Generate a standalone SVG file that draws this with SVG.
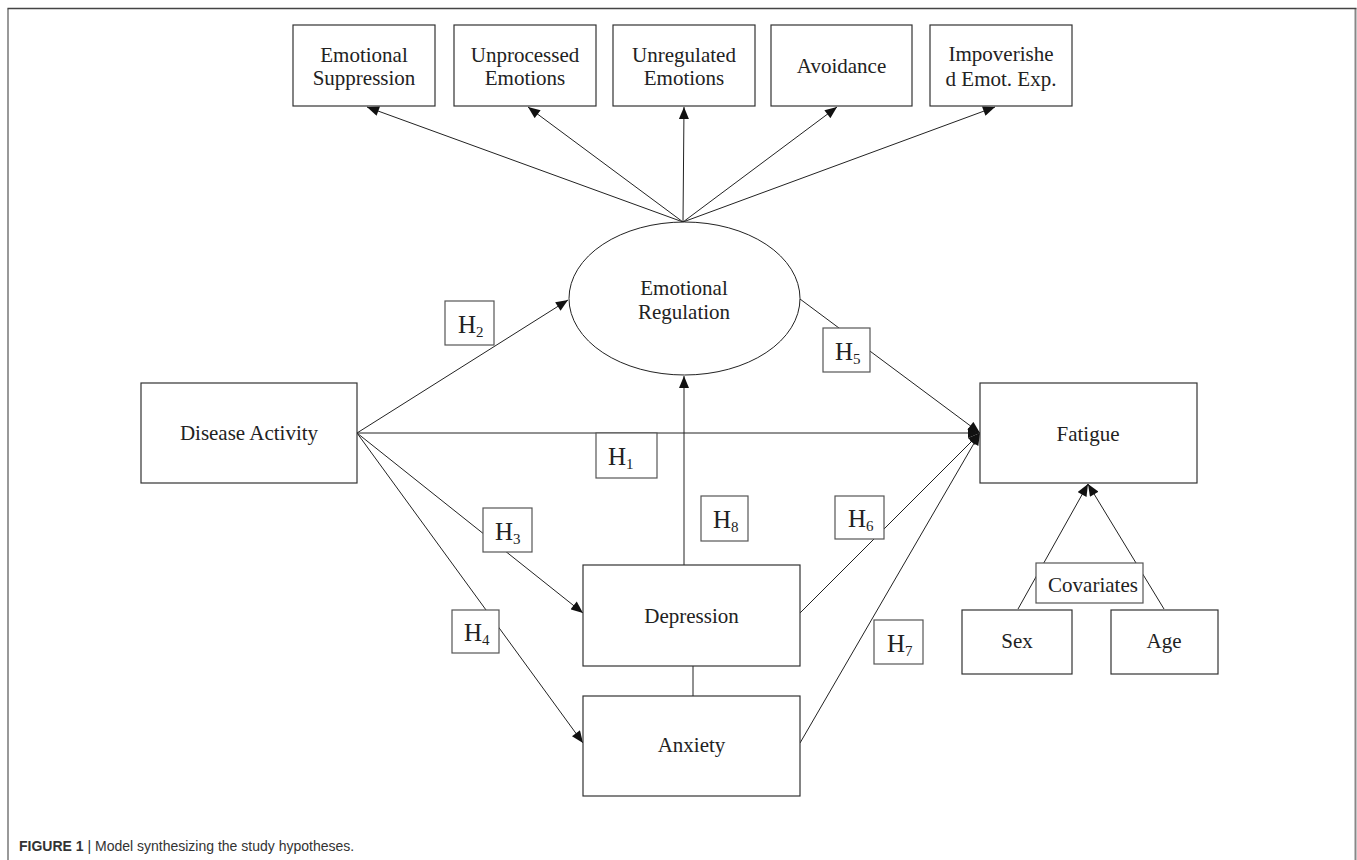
<svg xmlns="http://www.w3.org/2000/svg" width="1357" height="860" viewBox="0 0 1357 860">
<style>
  .box { fill: #fff; stroke: #333; stroke-width: 1.2; }
  .lbl { fill: #fff; stroke: #555; stroke-width: 1.2; }
  .t { font-family: "Liberation Serif", "Times New Roman", serif; font-size: 21px; fill: #222; text-anchor: middle; }
  .h { font-family: "Liberation Serif", "Times New Roman", serif; font-size: 25px; fill: #222; }
  .sub { font-size: 15px; }
  .ln { stroke: #222; stroke-width: 1; fill: none; }
  .arr { stroke: #222; stroke-width: 1; fill: none; marker-end: url(#ah); }
</style>
<defs>
  <marker id="ah" viewBox="0 0 12 10" refX="12" refY="5" markerWidth="13" markerHeight="10" markerUnits="userSpaceOnUse" orient="auto">
    <path d="M0,0 L12,5 L0,10 Z" fill="#111"/>
  </marker>
</defs>
<rect width="1357" height="860" fill="#fff"/>
<g id="frame">
  <line x1="8" y1="8.5" x2="8" y2="860" stroke="#555" stroke-width="1.2"/>
  <line x1="1355.5" y1="8.5" x2="1355.5" y2="860" stroke="#888" stroke-width="2"/>
  <line x1="7.5" y1="8.5" x2="1356.5" y2="8.5" stroke="#444" stroke-width="1.5"/>
</g>

<g id="connectors">
  <line class="arr" x1="683" y1="222" x2="367" y2="107"/>
  <line class="arr" x1="683" y1="222" x2="528" y2="107"/>
  <line class="arr" x1="683" y1="222" x2="684" y2="107"/>
  <line class="arr" x1="683" y1="222" x2="837" y2="107"/>
  <line class="arr" x1="683" y1="222" x2="995" y2="107"/>
  <line class="arr" x1="357" y1="433" x2="568" y2="300"/>
  <line class="arr" x1="357" y1="433" x2="980" y2="433"/>
  <line class="arr" x1="357" y1="433" x2="583" y2="613"/>
  <line class="arr" x1="357" y1="433" x2="583" y2="743"/>
  <line class="arr" x1="684" y1="565" x2="684" y2="376"/>
  <line class="arr" x1="800" y1="299" x2="980" y2="433"/>
  <line class="arr" x1="800" y1="613" x2="980" y2="433"/>
  <line class="arr" x1="800" y1="743" x2="980" y2="433"/>
  <line class="ln" x1="693" y1="666" x2="693" y2="696"/>
  <line class="arr" x1="1018" y1="609" x2="1088" y2="484"/>
  <line class="arr" x1="1164" y1="609" x2="1088" y2="484"/>
</g>

<g id="emotional-suppression">
  <rect class="box" x="293" y="25" width="142" height="81"/>
  <text class="t" x="364" y="62">Emotional</text>
  <text class="t" x="364" y="85">Suppression</text>
</g>
<g id="unprocessed-emotions">
  <rect class="box" x="454" y="25" width="142" height="81"/>
  <text class="t" x="525" y="62">Unprocessed</text>
  <text class="t" x="525" y="85">Emotions</text>
</g>
<g id="unregulated-emotions">
  <rect class="box" x="613" y="25" width="142" height="81"/>
  <text class="t" x="684" y="62">Unregulated</text>
  <text class="t" x="684" y="85">Emotions</text>
</g>
<g id="avoidance">
  <rect class="box" x="771" y="25" width="141" height="81"/>
  <text class="t" x="841.5" y="73">Avoidance</text>
</g>
<g id="impoverished">
  <rect class="box" x="930" y="25" width="142" height="81"/>
  <text class="t" x="1001" y="61">Impoverishe</text>
  <text class="t" x="1001" y="86">d Emot. Exp.</text>
</g>

<g id="emotional-regulation">
  <ellipse cx="684.5" cy="298.5" rx="115.5" ry="76.5" fill="#fff" stroke="#222" stroke-width="1"/>
  <text class="t" x="684" y="295">Emotional</text>
  <text class="t" x="684" y="319">Regulation</text>
</g>

<g id="disease-activity">
  <rect class="box" x="141" y="383" width="216" height="100"/>
  <text class="t" x="249" y="440">Disease Activity</text>
</g>
<g id="fatigue">
  <rect class="box" x="980" y="383" width="217" height="100"/>
  <text class="t" x="1088" y="441">Fatigue</text>
</g>
<g id="depression">
  <rect class="box" x="583" y="565" width="217" height="101"/>
  <text class="t" x="691.5" y="623">Depression</text>
</g>
<g id="anxiety">
  <rect class="box" x="583" y="696" width="217" height="100"/>
  <text class="t" x="691.5" y="752">Anxiety</text>
</g>
<g id="sex">
  <rect class="box" x="962" y="610" width="110" height="64"/>
  <text class="t" x="1017" y="648">Sex</text>
</g>
<g id="age">
  <rect class="box" x="1111" y="610" width="107" height="64"/>
  <text class="t" x="1164" y="648">Age</text>
</g>
<g id="covariates">
  <rect class="lbl" x="1036" y="563" width="107" height="40"/>
  <text class="t" x="1093" y="592">Covariates</text>
</g>

<g id="h1"><rect class="lbl" x="596" y="433" width="61" height="45"/><text class="h" x="608" y="465">H<tspan class="sub" dy="4">1</tspan></text></g>
<g id="h2"><rect class="lbl" x="445" y="301" width="49" height="44"/><text class="h" x="458" y="333">H<tspan class="sub" dy="4">2</tspan></text></g>
<g id="h3"><rect class="lbl" x="483" y="508" width="49" height="44"/><text class="h" x="495" y="540">H<tspan class="sub" dy="4">3</tspan></text></g>
<g id="h4"><rect class="lbl" x="452" y="610" width="47" height="43"/><text class="h" x="464" y="641">H<tspan class="sub" dy="4">4</tspan></text></g>
<g id="h5"><rect class="lbl" x="823" y="328" width="47" height="44"/><text class="h" x="835" y="360">H<tspan class="sub" dy="4">5</tspan></text></g>
<g id="h6"><rect class="lbl" x="835" y="496" width="49" height="43"/><text class="h" x="848" y="527">H<tspan class="sub" dy="4">6</tspan></text></g>
<g id="h7"><rect class="lbl" x="874" y="620" width="49" height="44"/><text class="h" x="887" y="652">H<tspan class="sub" dy="4">7</tspan></text></g>
<g id="h8"><rect class="lbl" x="701" y="496" width="47" height="45"/><text class="h" x="713" y="528">H<tspan class="sub" dy="4">8</tspan></text></g>

<text x="19" y="851" font-family="'Liberation Sans', Arial, sans-serif" font-size="14" fill="#333"><tspan font-weight="bold">FIGURE 1</tspan> | Model synthesizing the study hypotheses.</text>
</svg>
